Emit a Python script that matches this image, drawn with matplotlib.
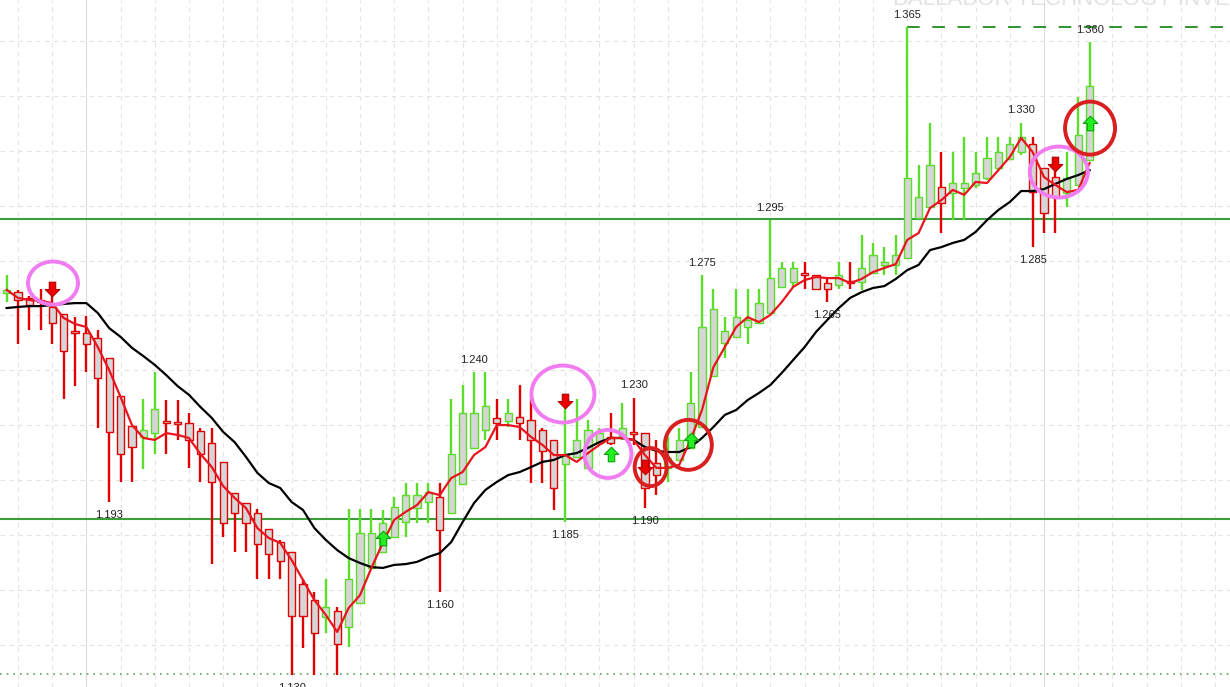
import matplotlib.pyplot as plt
from matplotlib.patches import Ellipse
from matplotlib.path import Path

# OHLC per bar (oldest -> newest)
open_ = [1.2682, 1.2685, 1.2664, 1.2656, 1.2631, 1.2605, 1.2543, 1.2536, 1.2518, 1.2445,
         1.2307, 1.2198, 1.2158, 1.2172, 1.2216, 1.2212, 1.2209, 1.2179, 1.2136, 1.2067,
         1.1954, 1.1917, 1.1881, 1.1823, 1.1775, 1.1739, 1.1623, 1.1564, 1.1502, 1.1524,
         1.1466, 1.1553, 1.1681, 1.1739, 1.1794, 1.1848, 1.1899, 1.1921, 1.1939, 1.1881,
         1.1987, 1.2118, 1.2183, 1.2227, 1.2216, 1.2230, 1.2220, 1.2183, 1.2147, 1.2059,
         1.2085, 1.2045, 1.2136, 1.2158, 1.2154, 1.2176, 1.2172, 1.2063, 1.2045, 1.2074,
         1.2118, 1.2194, 1.2380, 1.2500, 1.2522, 1.2558, 1.2573, 1.2609, 1.2704, 1.2722,
         1.2755, 1.2747, 1.2718, 1.2711, 1.2725, 1.2722, 1.2755, 1.2784, 1.2784, 1.2809,
         1.2955, 1.2995, 1.3068, 1.3046, 1.3064, 1.3075, 1.3100, 1.3137, 1.3170, 1.3195,
         1.3224, 1.3137, 1.3104, 1.3046, 1.3075, 1.3166]
high = [1.2747, 1.2693, 1.2671, 1.2696, 1.2682, 1.2605, 1.2594, 1.2598, 1.2547, 1.2445,
        1.2307, 1.2198, 1.2296, 1.2394, 1.2292, 1.2292, 1.2245, 1.2190, 1.2190, 1.2067,
        1.1954, 1.1917, 1.1896, 1.1823, 1.1783, 1.1739, 1.1641, 1.1593, 1.1641, 1.1539,
        1.1896, 1.1896, 1.1896, 1.1892, 1.1939, 1.1990, 1.1990, 1.1990, 1.1990, 1.2296,
        1.2347, 1.2394, 1.2394, 1.2296, 1.2296, 1.2347, 1.2296, 1.2190, 1.2147, 1.2281,
        1.2296, 1.2220, 1.2190, 1.2245, 1.2281, 1.2300, 1.2172, 1.2147, 1.2158, 1.2190,
        1.2394, 1.2747, 1.2696, 1.2594, 1.2696, 1.2696, 1.2696, 1.2947, 1.2795, 1.2795,
        1.2795, 1.2747, 1.2740, 1.2795, 1.2795, 1.2893, 1.2864, 1.2849, 1.2893, 1.3650,
        1.3148, 1.3301, 1.3195, 1.3195, 1.3250, 1.3195, 1.3250, 1.3250, 1.3250, 1.3301,
        1.3250, 1.3137, 1.3129, 1.3195, 1.3395, 1.3595]
low = [1.2649, 1.2496, 1.2547, 1.2547, 1.2496, 1.2296, 1.2343, 1.2394, 1.2190, 1.1921,
       1.1994, 1.1994, 1.2041, 1.2096, 1.2096, 1.2147, 1.2045, 1.1994, 1.1695, 1.1794,
       1.1739, 1.1739, 1.1641, 1.1641, 1.1641, 1.1291, 1.1390, 1.1291, 1.1444, 1.1291,
       1.1393, 1.1553, 1.1681, 1.1739, 1.1794, 1.1794, 1.1845, 1.1845, 1.1593, 1.1881,
       1.1987, 1.2118, 1.2147, 1.2147, 1.2194, 1.2147, 1.1990, 1.1990, 1.1892, 1.1848,
       1.2085, 1.2045, 1.2129, 1.2129, 1.2147, 1.2129, 1.1899, 1.1946, 1.1994, 1.2074,
       1.2118, 1.2194, 1.2380, 1.2445, 1.2522, 1.2496, 1.2573, 1.2609, 1.2704, 1.2704,
       1.2696, 1.2696, 1.2649, 1.2696, 1.2696, 1.2693, 1.2755, 1.2747, 1.2747, 1.2809,
       1.2955, 1.2995, 1.2900, 1.2947, 1.2947, 1.3064, 1.3093, 1.3129, 1.3166, 1.3184,
       1.2849, 1.2900, 1.2900, 1.2995, 1.3075, 1.3166]
close = [1.2693, 1.2656, 1.2638, 1.2649, 1.2573, 1.2471, 1.2536, 1.2496, 1.2372, 1.2176,
         1.2096, 1.2121, 1.2183, 1.2260, 1.2209, 1.2205, 1.2147, 1.2096, 1.1994, 1.1845,
         1.1881, 1.1845, 1.1768, 1.1732, 1.1706, 1.1506, 1.1506, 1.1444, 1.1539, 1.1404,
         1.1641, 1.1808, 1.1808, 1.1845, 1.1903, 1.1946, 1.1946, 1.1957, 1.1819, 1.2096,
         1.2245, 1.2245, 1.2270, 1.2209, 1.2245, 1.2209, 1.2147, 1.2107, 1.1972, 1.2092,
         1.2147, 1.2183, 1.2172, 1.2136, 1.2190, 1.2169, 1.1972, 1.2019, 1.2081, 1.2147,
         1.2281, 1.2558, 1.2624, 1.2543, 1.2594, 1.2584, 1.2645, 1.2736, 1.2773, 1.2773,
         1.2747, 1.2696, 1.2696, 1.2747, 1.2718, 1.2773, 1.2820, 1.2795, 1.2820, 1.3100,
         1.3031, 1.3148, 1.3009, 1.3082, 1.3082, 1.3119, 1.3173, 1.3195, 1.3224, 1.3250,
         1.3049, 1.2973, 1.3031, 1.3100, 1.3257, 1.3435]

# moving averages
ma_fast = [1.2693, 1.2664, 1.2656, 1.2653, 1.2645, 1.2591, 1.2569, 1.2558, 1.2485, 1.2401,
           1.2303, 1.2201, 1.2154, 1.2147, 1.2172, 1.2165, 1.2154, 1.2096, 1.2048, 1.1979,
           1.1936, 1.1899, 1.1826, 1.1790, 1.1772, 1.1710, 1.1637, 1.1564, 1.1510, 1.1448,
           1.1535, 1.1582, 1.1681, 1.1772, 1.1856, 1.1885, 1.1910, 1.1957, 1.1946, 1.2008,
           1.2030, 1.2092, 1.2121, 1.2201, 1.2201, 1.2194, 1.2158, 1.2129, 1.2092, 1.2092,
           1.2067, 1.2099, 1.2129, 1.2154, 1.2154, 1.2147, 1.2092, 1.2045, 1.2045, 1.2056,
           1.2147, 1.2256, 1.2412, 1.2485, 1.2558, 1.2594, 1.2576, 1.2602, 1.2649, 1.2704,
           1.2729, 1.2740, 1.2736, 1.2736, 1.2718, 1.2733, 1.2758, 1.2773, 1.2787, 1.2875,
           1.2900, 1.2991, 1.3020, 1.3057, 1.3039, 1.3086, 1.3082, 1.3129, 1.3177, 1.3246,
           1.3195, 1.3104, 1.3075, 1.3049, 1.3057, 1.3155]
ma_slow = [1.2627, 1.2631, 1.2634, 1.2634, 1.2638, 1.2642, 1.2645, 1.2645, 1.2609, 1.2554,
           1.2522, 1.2482, 1.2452, 1.2420, 1.2383, 1.2343, 1.2311, 1.2267, 1.2227, 1.2176,
           1.2139, 1.2085, 1.2027, 1.1990, 1.1972, 1.1921, 1.1892, 1.1826, 1.1783, 1.1746,
           1.1717, 1.1699, 1.1684, 1.1681, 1.1692, 1.1695, 1.1703, 1.1721, 1.1735, 1.1775,
           1.1848, 1.1917, 1.1965, 1.1994, 1.2019, 1.2030, 1.2048, 1.2067, 1.2074, 1.2092,
           1.2099, 1.2118, 1.2139, 1.2154, 1.2154, 1.2147, 1.2121, 1.2107, 1.2103, 1.2103,
           1.2121, 1.2154, 1.2194, 1.2238, 1.2256, 1.2292, 1.2318, 1.2347, 1.2391, 1.2438,
           1.2485, 1.2540, 1.2584, 1.2627, 1.2664, 1.2685, 1.2700, 1.2707, 1.2733, 1.2765,
           1.2784, 1.2838, 1.2849, 1.2864, 1.2875, 1.2904, 1.2947, 1.2984, 1.3013, 1.3053,
           1.3053, 1.3060, 1.3079, 1.3097, 1.3111, 1.3129]

# price labels: (text, bar, side)
labels = [("1.193", 9, "low"), ("1.130", 25, "low"), ("1.160", 38, "low"),
          ("1.240", 41, "high"), ("1.185", 49, "low"), ("1.230", 55, "high"),
          ("1.190", 56, "low"), ("1.275", 61, "high"), ("1.295", 67, "high"),
          ("1.265", 72, "low"), ("1.365", 79, "high"), ("1.330", 89, "high"),
          ("1.285", 90, "low"), ("1.360", 95, "high")]

# signal arrows: (bar, price)
sell_bars = [4, 49, 56, 92]
sell_prices = [1.2696, 1.2289, 1.2048, 1.3151]
buy_bars = [33, 53, 60, 95]
buy_prices = [1.1790, 1.2096, 1.2147, 1.3301]

# hand drawn marks: (bar, price, width px, height px, colour)
marks = [(4.07, 1.2718, 50, 43, "#f07cf0"), (48.8, 1.2314, 63, 57, "#f07cf0"),
         (52.75, 1.2096, 47, 48, "#f07cf0"), (92.3, 1.3122, 58, 51, "#f07cf0"),
         (56.5, 1.2048, 32, 38, "#d91f1f"), (59.8, 1.2129, 47, 50, "#d91f1f"),
         (95.04, 1.3282, 50, 53, "#d91f1f")]

support = [1.2951, 1.1859]
top_level = 1.3650
bottom_level = 1.1295

GREEN = "#5ade2a"
RED = "#e00000"
PX_X = 11.4       # pixels per bar
PX_Y = 0.000364   # price per pixel

fig = plt.figure(figsize=(12.3, 6.87), dpi=100)
ax = fig.add_axes([0, 0, 1, 1])
ax.set_xlim(-6.6 / PX_X, (1230 - 6.6) / PX_X)
ax.set_ylim(1.37483 - 687 * PX_Y, 1.37483)
ax.axis("off")

# grid
for p in [1.14 + 0.02 * i for i in range(12)]:
    ax.axhline(p, color="#e2e2e2", lw=0.8, ls=(0, (4, 4)), zorder=0)
for k in range(1, 108, 3):
    solid = k in (7, 91)
    ax.axvline(k, color="#dcdcdc" if solid else "#e4e4e4", lw=0.8,
               ls="-" if solid else (0, (4, 4)), zorder=0)

# levels
for p in support:
    ax.axhline(p, color="#3e9e3e", lw=1.5, zorder=1)
ax.plot([79, 108], [top_level, top_level], color="#1f8a1f", lw=1.3,
        dashes=(7, 7), zorder=1)
ax.axhline(bottom_level, color="#5aa85a", lw=1.2, ls=(0, (1, 3)), zorder=1)

# candles
idx = list(range(len(close)))
cols = [GREEN if c >= o else RED for o, c in zip(open_, close)]
ax.vlines(idx, low, high, colors=cols, lw=1.7, zorder=2)
bottoms = [min(o, c) for o, c in zip(open_, close)]
heights = [max(abs(c - o), 0.0004) for o, c in zip(open_, close)]
ax.bar(idx, heights, bottom=bottoms, width=0.64, color="#d6d6d6",
       edgecolor=cols, linewidth=1.0, zorder=3)

ax.plot(idx, ma_slow, color="black", lw=1.6, zorder=4)
ax.plot(idx, ma_fast, color="#e8141e", lw=1.6, zorder=4)

# arrows
down = Path([(-0.22, 0.5), (0.22, 0.5), (0.22, 0.0), (0.5, 0.0), (0.0, -0.5),
             (-0.5, 0.0), (-0.22, 0.0), (-0.22, 0.5)], closed=True)
up = Path([(x, -y) for x, y in down.vertices], closed=True)
ax.plot(sell_bars, sell_prices, ls="none", marker=down, ms=10.5, mfc="#ee0000",
        mec="#b00000", mew=0.8, zorder=5)
ax.plot(buy_bars, buy_prices, ls="none", marker=up, ms=10.5, mfc="#22ee22",
        mec="#10a010", mew=0.8, zorder=5)

for text, k, side in labels:
    if side == "high":
        ax.annotate(text, (k, high[k]), xytext=(0, 9), textcoords="offset points",
                    ha="center", va="center", fontsize=8, color="#222222",
                    family="Liberation Sans", zorder=6)
    else:
        ax.annotate(text, (k, low[k]), xytext=(0, -9.5), textcoords="offset points",
                    ha="center", va="center", fontsize=8, color="#222222",
                    family="Liberation Sans", zorder=6)

for k, p, w, h, c in marks:
    ax.add_patch(Ellipse((k, p), w / PX_X, h * PX_Y, fill=False, ec=c, lw=2.8,
                         zorder=7))

# watermark, mostly cut off at the top
fig.text(893 / 1230, 1 - 5 / 687, "BALLABOR TECHNOLOGY INVESTMENT", fontsize=16,
         color="#e2e2e2", family="Liberation Sans", va="baseline", ha="left")

fig.savefig("out.png", dpi=100, facecolor="white")
